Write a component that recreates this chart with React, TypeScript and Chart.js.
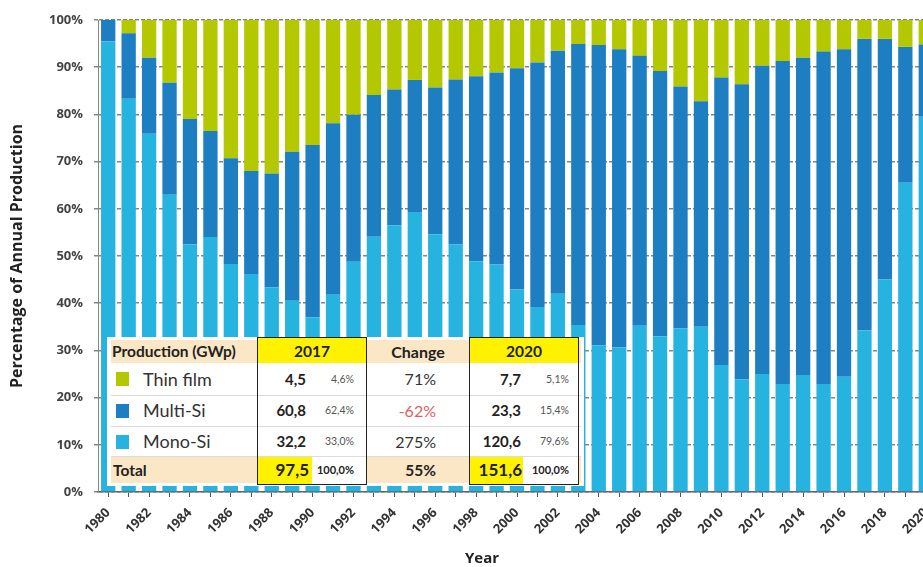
import React, { useEffect, useRef } from "react";
import { Chart, registerables } from "chart.js";

Chart.register(...registerables);

const years = [
  "1980", "1981", "1982", "1983", "1984", "1985", "1986", "1987", "1988", "1989",
  "1990", "1991", "1992", "1993", "1994", "1995", "1996", "1997", "1998", "1999",
  "2000", "2001", "2002", "2003", "2004", "2005", "2006", "2007", "2008", "2009",
  "2010", "2011", "2012", "2013", "2014", "2015", "2016", "2017", "2018", "2019", "2020",
];

const monoSi = [
  95.5, 83.3, 75.9, 63.0, 52.5, 54.0, 48.3, 46.2, 43.4, 40.5,
  37.0, 41.8, 48.8, 54.1, 56.5, 59.3, 54.6, 52.5, 48.9, 48.2,
  42.9, 39.2, 42.0, 35.4, 31.1, 30.6, 35.2, 33.0, 34.7, 35.0,
  26.9, 23.9, 25.0, 22.9, 24.8, 22.9, 24.4, 34.2, 45.1, 65.5, 79.5,
];

const multiSi = [
  4.5, 13.9, 16.1, 23.7, 26.5, 22.5, 22.4, 21.8, 24.1, 31.6,
  36.5, 36.3, 31.1, 30.0, 28.8, 28.0, 31.1, 34.9, 39.2, 40.7,
  46.9, 51.8, 51.5, 59.5, 63.6, 63.2, 57.2, 56.2, 51.2, 47.8,
  60.9, 62.5, 65.3, 68.4, 67.2, 70.4, 69.4, 61.8, 50.9, 28.8, 15.3,
];

const thinFilm = [
  0.0, 2.8, 8.0, 13.3, 21.0, 23.5, 29.3, 32.0, 32.5, 27.9,
  26.5, 21.9, 20.1, 15.9, 14.7, 12.7, 14.3, 12.6, 11.9, 11.1,
  10.2, 9.0, 6.5, 5.1, 5.3, 6.2, 7.6, 10.8, 14.1, 17.2,
  12.2, 13.6, 9.7, 8.7, 8.0, 6.7, 6.2, 4.0, 4.0, 5.7, 5.2,
];

const tableSeries = ["Thin film", "Multi-Si", "Mono-Si"];
const prod2017 = ["4,5", "60,8", "32,2"];
const share2017 = ["4,6%", "62,4%", "33,0%"];
const changeValues = ["71%", "-62%", "275%"];
const prod2020 = ["7,7", "23,3", "120,6"];
const share2020 = ["5,1%", "15,4%", "79,6%"];
const totalLabels = ["97,5", "100,0%", "55%", "151,6", "100,0%"];

const COLOR_MONO = "#27b3e0";
const COLOR_MULTI = "#1d7ec2";
const COLOR_THIN = "#b4c800";
const seriesColors = [COLOR_THIN, COLOR_MULTI, COLOR_MONO];

const FONT = "'Open Sans', 'Liberation Sans', sans-serif";
const TFONT = "Lato, 'Open Sans', sans-serif";

const yearTitlePlugin = {
  id: "yearTitle",
  afterDraw(chart: any) {
    const ctx = chart.ctx;
    ctx.save();
    ctx.font = "bold 15px " + FONT;
    ctx.fillStyle = "#222";
    ctx.textAlign = "center";
    ctx.textBaseline = "middle";
    ctx.fillText("Year", 482, 559);
    ctx.restore();
  },
};

function Box(props: { l: number; t: number; w: number; h: number; bg?: string; style?: any; children?: any }) {
  return (
    <div
      style={{
        position: "absolute",
        left: props.l,
        top: props.t,
        width: props.w,
        height: props.h,
        background: props.bg,
        boxSizing: "border-box",
        ...(props.style || {}),
      }}
    >
      {props.children}
    </div>
  );
}

function Txt(props: {
  l: number;
  t: number;
  w: number;
  h: number;
  align: "left" | "right" | "center";
  size: number;
  bold?: boolean;
  color?: string;
  text: string;
}) {
  return (
    <div
      style={{
        position: "absolute",
        left: props.l,
        top: props.t,
        width: props.w,
        height: props.h,
        lineHeight: props.h + "px",
        textAlign: props.align,
        fontSize: props.size,
        fontWeight: props.bold ? 700 : 400,
        color: props.color || "#222",
        fontFamily: TFONT,
        whiteSpace: "nowrap",
      }}
    >
      {props.text}
    </div>
  );
}

function DataTable() {
  const rowTops = [363, 395, 426];
  const rowH = [32, 31, 31];
  return (
    <>
      <Box l={107} t={337} w={477} h={149} bg="#ffffff" />
      <Box l={111} t={340} w={470} h={23} bg="#fbe7c5" />
      <Box l={111} t={457} w={470} h={26} bg="#fbe7c5" />
      <Box l={258} t={338} w={108} h={25} bg="#fff200" />
      <Box l={470} t={338} w={108} h={25} bg="#fff200" />
      <Box l={312} t={457} w={54} h={27} bg="#ffffff" />
      <Box l={523} t={457} w={55} h={27} bg="#ffffff" />
      <Box l={258} t={457} w={54} h={27} bg="#fff200" />
      <Box l={470} t={457} w={53} h={27} bg="#fff200" />
      <Box l={111} t={395} w={470} h={1} bg="#dcdcdc" />
      <Box l={111} t={426} w={470} h={1} bg="#dcdcdc" />
      <Box l={111} t={456} w={470} h={1} bg="#dcdcdc" />
      <Box l={257} t={337} w={110} h={148} style={{ border: "1.5px solid #222" }} />
      <Box l={469} t={337} w={110} h={148} style={{ border: "1.5px solid #222" }} />

      <Txt l={112} t={340} w={146} h={23} align="left" size={15.5} bold text="Production (GWp)" />
      <Txt l={258} t={340} w={108} h={23} align="center" size={15.5} bold text="2017" />
      <Txt l={366} t={340} w={104} h={23} align="center" size={16} bold text="Change" />
      <Txt l={470} t={340} w={108} h={23} align="center" size={15.5} bold text="2020" />

      {tableSeries.map((name, i) => (
        <React.Fragment key={name}>
          <Box l={116} t={rowTops[i] + rowH[i] / 2 - 7} w={13} h={14} bg={seriesColors[i]} />
          <Txt l={143} t={rowTops[i]} w={110} h={rowH[i]} align="left" size={18} color="#333" text={name} />
          <Txt l={258} t={rowTops[i]} w={48} h={rowH[i]} align="right" size={15} bold text={prod2017[i]} />
          <Txt l={310} t={rowTops[i]} w={44} h={rowH[i]} align="right" size={10.5} color="#555" text={share2017[i]} />
          <Txt
            l={366}
            t={rowTops[i]}
            w={70}
            h={rowH[i]}
            align="right"
            size={16}
            color={changeValues[i].startsWith("-") ? "#e35d5d" : "#333"}
            text={changeValues[i]}
          />
          <Txt l={470} t={rowTops[i]} w={51} h={rowH[i]} align="right" size={15} bold text={prod2020[i]} />
          <Txt l={523} t={rowTops[i]} w={46} h={rowH[i]} align="right" size={10.5} color="#555" text={share2020[i]} />
        </React.Fragment>
      ))}

      <Txt l={113} t={457} w={140} h={26} align="left" size={15.5} bold text="Total" />
      <Txt l={258} t={457} w={51} h={26} align="right" size={17} bold text={totalLabels[0]} />
      <Txt l={310} t={457} w={44} h={26} align="right" size={11} bold text={totalLabels[1]} />
      <Txt l={366} t={457} w={70} h={26} align="right" size={15.5} bold text={totalLabels[2]} />
      <Txt l={470} t={457} w={52} h={26} align="right" size={17} bold text={totalLabels[3]} />
      <Txt l={523} t={457} w={46} h={26} align="right" size={11} bold text={totalLabels[4]} />
    </>
  );
}

export default function App() {
  const canvasRef = useRef<HTMLCanvasElement | null>(null);

  useEffect(() => {
    const canvas = canvasRef.current;
    if (!canvas) return;
    const chart = new Chart(canvas, {
      type: "bar",
      data: {
        labels: years,
        datasets: [
          { label: "Mono-Si", data: monoSi, backgroundColor: COLOR_MONO, borderWidth: 0, barPercentage: 0.7, categoryPercentage: 1 },
          { label: "Multi-Si", data: multiSi, backgroundColor: COLOR_MULTI, borderWidth: 0, barPercentage: 0.7, categoryPercentage: 1 },
          { label: "Thin film", data: thinFilm, backgroundColor: COLOR_THIN, borderWidth: 0, barPercentage: 0.7, categoryPercentage: 1 },
        ],
      },
      options: {
        animation: false,
        responsive: false,
        devicePixelRatio: 1,
        layout: { padding: { top: 20, right: 9, left: 0, bottom: 0 } },
        plugins: { legend: { display: false }, tooltip: { enabled: false } },
        scales: {
          x: {
            stacked: true,
            offset: true,
            grid: { display: true, drawOnChartArea: false, drawTicks: true, tickLength: 5, offset: false, color: "#555", lineWidth: 1 },
            border: { display: true, color: "#666", width: 1.5 },
            ticks: {
              autoSkip: false,
              maxRotation: 45,
              minRotation: 45,
              padding: 8,
              color: "#333",
              font: { family: FONT, weight: "bold", size: 13 },
              callback: (_v: any, i: number) => (i % 2 === 0 ? years[i] : ""),
            },
            afterFit: (s: any) => {
              s.height = 75;
            },
          },
          y: {
            stacked: true,
            min: 0,
            max: 100,
            ticks: {
              stepSize: 10,
              padding: 11,
              color: "#444",
              font: { family: FONT, weight: "bold", size: 13 },
              callback: (v: any) => v + "%",
            },
            grid: { color: "#858585", lineWidth: 1.5, tickLength: 4, drawTicks: true },
            border: { display: true, color: "#888", width: 1, dash: [4, 2] },
            title: {
              display: true,
              text: "Percentage of Annual Production",
              color: "#222",
              font: { family: FONT, weight: "bold", size: 16 },
              padding: { top: 8, bottom: 0 },
            },
            afterFit: (s: any) => {
              s.width = 98;
            },
          },
        },
      } as any,
      plugins: [yearTitlePlugin],
    });
    return () => chart.destroy();
  }, []);

  return (
    <div style={{ position: "fixed", left: 0, top: 0, width: 923, height: 567, overflow: "hidden", background: "#fff" }}>
      <canvas ref={canvasRef} width={945} height={567} style={{ position: "absolute", left: 0, top: 0, width: 945, height: 567 }} />
      <DataTable />
    </div>
  );
}
